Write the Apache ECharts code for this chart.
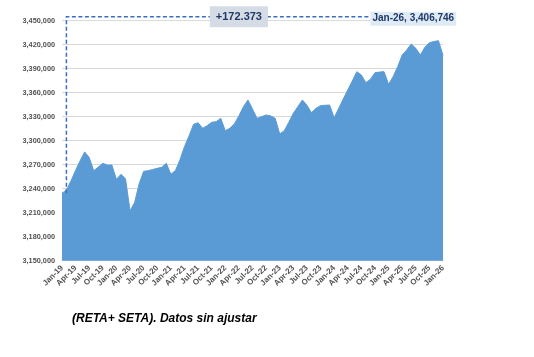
<!DOCTYPE html>
<html>
<head>
<meta charset="utf-8">
<script src="https://cdn.jsdelivr.net/npm/echarts@6/dist/echarts.min.js"></script>
<style>
html,body{margin:0;padding:0;background:#fff;}
#chart{width:534px;height:357px;}
</style>
</head>
<body>
<div id="chart"></div>
<script>
const categories = [
'Jan-19','Feb-19','Mar-19','Apr-19','May-19','Jun-19','Jul-19','Aug-19','Sep-19','Oct-19','Nov-19','Dec-19',
'Jan-20','Feb-20','Mar-20','Apr-20','May-20','Jun-20','Jul-20','Aug-20','Sep-20','Oct-20','Nov-20','Dec-20',
'Jan-21','Feb-21','Mar-21','Apr-21','May-21','Jun-21','Jul-21','Aug-21','Sep-21','Oct-21','Nov-21','Dec-21',
'Jan-22','Feb-22','Mar-22','Apr-22','May-22','Jun-22','Jul-22','Aug-22','Sep-22','Oct-22','Nov-22','Dec-22',
'Jan-23','Feb-23','Mar-23','Apr-23','May-23','Jun-23','Jul-23','Aug-23','Sep-23','Oct-23','Nov-23','Dec-23',
'Jan-24','Feb-24','Mar-24','Apr-24','May-24','Jun-24','Jul-24','Aug-24','Sep-24','Oct-24','Nov-24','Dec-24',
'Jan-25','Feb-25','Mar-25','Apr-25','May-25','Jun-25','Jul-25','Aug-25','Sep-25','Oct-25','Nov-25','Dec-25',
'Jan-26'
];
const values = [
3234373,3238400,3250000,3263000,3275000,3286000,3279000,3262500,3267000,3271700,3269600,3269600,
3251700,3258000,3252500,3212500,3222500,3246000,3261700,3262500,3264000,3265500,3266700,3271700,
3258000,3262600,3275900,3292500,3305900,3320500,3322500,3315500,3318800,3323000,3323800,3328000,
3312500,3315500,3321000,3331000,3342500,3350900,3339600,3328000,3330000,3332100,3331000,3328000,
3308400,3312500,3323000,3334200,3342500,3350900,3344300,3335000,3340500,3343800,3344300,3344600,
3328600,3340400,3352000,3363400,3374600,3386300,3382100,3372500,3376700,3385000,3385800,3386300,
3370500,3380000,3392500,3407100,3413400,3420900,3415500,3407100,3416700,3422500,3424000,3425000,
3406746
];
const yTicks = [3150000,3180000,3210000,3240000,3270000,3300000,3330000,3360000,3390000,3420000,3450000];
const caption = '(RETA+ SETA). Datos sin ajustar';

function fmtComma(v){ return String(Math.round(v)).replace(/\B(?=(\d{3})+(?!\d))/g, ','); }
function fmtDot(v){ return String(Math.round(v)).replace(/\B(?=(\d{3})+(?!\d))/g, '.'); }

const chart = echarts.init(document.getElementById('chart'), null, {renderer:'canvas'});
const labelFont = 'Liberation Sans, Arial, sans-serif';
chart.setOption({
  animation: false,
  grid: {left: 62, right: 91, top: 20.7, bottom: 96.3, containLabel: false},
  xAxis: {
    type: 'category',
    data: categories,
    boundaryGap: false,
    axisLine: {show: true, lineStyle: {color: '#d9d9d9', width: 1}},
    axisTick: {show: false},
    axisLabel: {
      interval: 2, rotate: 45, margin: 6,
      color: '#505050', fontSize: 8, fontWeight: 'bold', fontFamily: labelFont
    },
    splitLine: {show: false}
  },
  yAxis: {
    type: 'value',
    min: yTicks[0], max: yTicks[yTicks.length-1], interval: yTicks[1]-yTicks[0],
    axisLine: {show: false}, axisTick: {show: false},
    axisLabel: {
      margin: 7, color: '#505050', fontSize: 7.3, fontWeight: 'bold', fontFamily: labelFont,
      formatter: v => fmtComma(v)
    },
    splitLine: {show: true, lineStyle: {color: '#d9d9d9', width: 1}}
  },
  series: [{
    type: 'line',
    data: values,
    symbol: 'none',
    lineStyle: {color: '#5b9bd5', width: 1},
    areaStyle: {color: '#5b9bd5', opacity: 1},
    itemStyle: {color: '#5b9bd5'}
  }]
});

// Annotations positioned through the chart's own scales
const last = values.length - 1;
const pStart = chart.convertToPixel({seriesIndex: 0}, [0, values[0]]);
const pTop = chart.convertToPixel({seriesIndex: 0}, [0, yTicks[yTicks.length-1]]);
const pMid = chart.convertToPixel({seriesIndex: 0}, [39, values[0]]);
const pLbl = chart.convertToPixel({seriesIndex: 0}, [68, values[0]]);
const dashX = pStart[0] + 4.4;
const dashY = pTop[1] - 4;
const diff = values[last] - values[0];

chart.setOption({
  graphic: [
    {type: 'polyline', z: 10, silent: true,
     shape: {points: [[dashX, pStart[1]], [dashX, dashY], [pLbl[0], dashY]]},
     style: {stroke: '#3a6ec0', lineWidth: 1.5, lineDash: [4, 2.5], fill: null}},
    {type: 'text', z: 20, silent: true, x: pMid[0], y: dashY,
     style: {text: '+' + fmtDot(diff), font: 'bold 11px ' + labelFont, fill: '#1f3864',
             align: 'center', verticalAlign: 'middle', backgroundColor: '#d6dce5',
             padding: [5, 6, 5, 6]}},
    {type: 'text', z: 20, silent: true, x: pLbl[0], y: dashY + 2,
     style: {text: categories[last] + ', ' + fmtComma(values[last]), font: 'bold 10px ' + labelFont,
             fill: '#1f3864', align: 'left', verticalAlign: 'middle', backgroundColor: '#deebf7',
             padding: [2, 2, 2, 2]}},
    {type: 'text', silent: true, x: 72, y: 319,
     style: {text: caption, font: 'italic bold 12px ' + labelFont, fill: '#000',
             align: 'left', verticalAlign: 'middle'}}
  ]
});
</script>
</body>
</html>
